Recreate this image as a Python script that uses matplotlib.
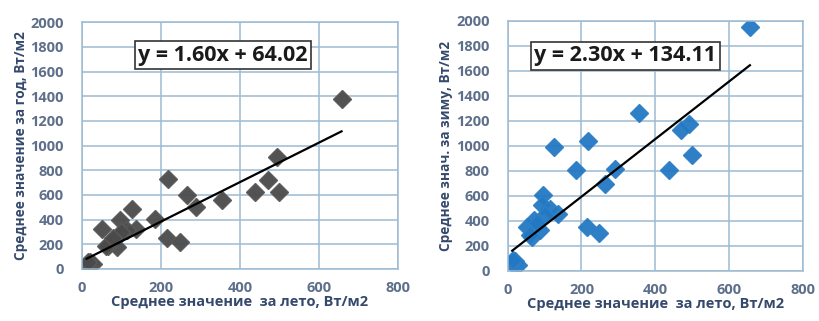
import matplotlib.pyplot as plt
import numpy as np

plt.rcParams['font.family'] = ['Open Sans', 'DejaVu Sans']

# среднее за лето (ось X), одинаково для обоих графиков
leto = np.array([657, 493, 470, 437, 500, 355, 290, 265, 218, 215, 248, 186,
                 126, 52, 96, 137, 114, 93, 71, 88, 65, 20, 28, 12, 15, 100,
                 60, 79])
# среднее за год
god = np.array([1380, 910, 720, 620, 620, 560, 500, 600, 730, 255, 220, 405,
                487, 325, 395, 323, 317, 277, 210, 175, 183, 55, 40, 30, 60,
                300, 190, 250])
# среднее за зиму
zima = np.array([1950, 1175, 1130, 810, 925, 1265, 815, 693, 1040, 350, 300,
                 810, 990, 352, 606, 459, 499, 526, 406, 326, 272, 80, 50, 60,
                 90, 450, 290, 380])

# коэффициенты линий тренда
k_god, b_god = 1.60, 64.02
k_zima, b_zima = 2.30, 134.11

grid_c = '#9dbbd3'
tick_c = '#5d6f8a'
lab_c = '#34496b'

fig = plt.figure(figsize=(8.19, 3.21), dpi=100)
ax1 = fig.add_axes([0.100, 0.162, 0.386, 0.769])
ax2 = fig.add_axes([0.620, 0.156, 0.360, 0.779])


def oformit(ax, ylabel):
    ax.set_xlim(0, 800)
    ax.set_ylim(0, 2000)
    ax.set_xticks(range(0, 801, 200))
    ax.set_yticks(range(0, 2001, 200))
    ax.grid(True, color=grid_c, lw=1.1)
    ax.set_axisbelow(True)
    for s in ax.spines.values():
        s.set_color(grid_c)
        s.set_linewidth(1.1)
    ax.tick_params(length=0, colors=tick_c, labelsize=10.5)
    ax.tick_params(axis='y', pad=13)
    ax.tick_params(axis='x', pad=9)
    for t in ax.get_xticklabels() + ax.get_yticklabels():
        t.set_fontweight('bold')
    ax.set_xlabel('Среднее значение  за лето, Вт/м2', color=lab_c,
                  fontsize=10.5, fontweight='bold', labelpad=0)
    ax.set_ylabel(ylabel, color=lab_c, fontsize=9.8, fontweight='bold',
                  labelpad=2)


xs = np.array([leto.min(), leto.max()])

oformit(ax1, 'Среднее значение за год, Вт/м2')
ax1.plot(leto, god, 'D', color='#4a4a4a', ms=9.5, mec='#5a5a5a', alpha=0.95)
ax1.plot(xs, k_god * xs + b_god, color='black', lw=1.6)
ax1.text(0.178, 0.866, 'y = %.2fx + %.2f' % (k_god, b_god),
         transform=ax1.transAxes, fontsize=15.5, fontweight='bold',
         color='#1a1a1a', va='center',
         bbox=dict(boxstyle='square,pad=0.15', fc='white', ec='#333333', lw=1.2))

oformit(ax2, 'Среднее знач. за зиму, Вт/м2')
ax2.plot(leto, zima, 'D', color='#2278c3', ms=9.5, mec='#2f80c6', alpha=0.95)
ax2.plot(xs, k_zima * xs + b_zima, color='black', lw=1.6)
ax2.text(0.09, 0.86, 'y = %.2fx + %.2f' % (k_zima, b_zima),
         transform=ax2.transAxes, fontsize=15.5, fontweight='bold',
         color='#1a1a1a', va='center',
         bbox=dict(boxstyle='square,pad=0.15', fc='white', ec='#333333', lw=1.2))

fig.savefig('out.png', dpi=100)
